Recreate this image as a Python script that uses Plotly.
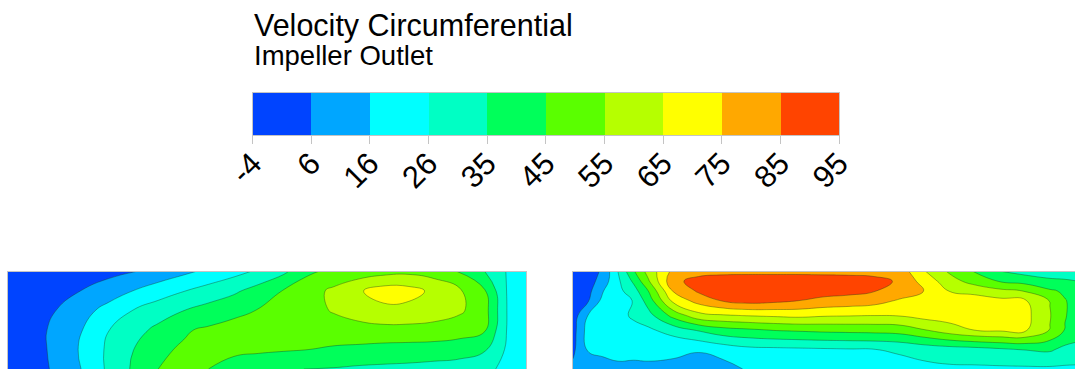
import numpy as np
import plotly.graph_objects as go

TITLE = "Velocity Circumferential"
SUBTITLE = "Impeller Outlet"

# Contour bands: 10 equal bands between the minimum and maximum level
level_min = -4.0
level_max = 95.0
n_bands = 10
tick_labels = ["-4", "6", "16", "26", "35", "45", "55", "65", "75", "85", "95"]
band_colors = ["#0044ff", "#00a6ff", "#00ffff", "#00ffc4", "#00ff5a",
               "#5aff00", "#b6ff00", "#ffff00", "#ffa800", "#ff4400"]

# Left passage: sampled circumferential velocity (rows run bottom -> top)
left_x = [0.0, 0.048, 0.097, 0.145, 0.194, 0.242, 0.29, 0.339, 0.387, 0.436, 0.484,
          0.532, 0.581, 0.629, 0.678, 0.726, 0.774, 0.823, 0.871, 0.919, 0.968, 1.0]
left_y = [0.0, 0.2, 0.4, 0.6, 0.8, 1.0]
left_z = [
    [-2, 2, 8, 16.5, 27.5, 37, 45.5, 47, 45.5, 41, 37.5, 36, 35.5, 35, 34, 33.5, 33, 32, 31, 28, 23, 18],
    [-2, 2, 9, 17.5, 27.5, 35.5, 44, 46.5, 48, 48, 47.5, 46.5, 45.5, 44, 43, 42, 41.5, 41, 40, 37, 23, 18],
    [-2, 2, 9, 16, 25.5, 32, 38, 44.5, 47, 49, 50, 50.5, 51, 52, 52.5, 52.5, 52.5, 52, 50, 47, 23, 18],
    [-2, 1, 6.4, 12.6, 19.2, 26, 30.8, 35.5, 39.3, 43, 46, 49.5, 53, 56, 59, 62.5, 62, 60, 57, 50, 23, 18],
    [-2, 0, 3, 6.3, 11, 16, 21, 25.4, 29.7, 33.9, 39.8, 46.1, 51.5, 57.5, 64.3, 70, 69, 63, 57, 47, 23, 18],
    [-2, -1, 0, 1, 3, 5.5, 9.3, 13.7, 18, 22.5, 27.3, 33.7, 44, 48, 50, 52, 53, 51, 45, 36, 24, 20],
]

# Right passage: sampled circumferential velocity (rows run bottom -> top)
right_x = [0.0, 0.03, 0.06, 0.09, 0.12, 0.15, 0.2, 0.25, 0.3, 0.35, 0.4, 0.45,
           0.5, 0.55, 0.6, 0.65, 0.7, 0.75, 0.8, 0.85, 0.9, 0.95, 0.98, 1.0]
right_y = [0.0, 0.2, 0.4, 0.55, 0.7, 0.8, 0.9, 1.0]
right_z = [
    [8, 12, 13, 14, 14, 15, 15, 12, 12, 17, 19, 20, 20, 21, 22, 22, 23, 24, 24, 24, 24, 24, 24, 24],
    [4, 16.5, 17.5, 18.5, 18, 17, 16.5, 16.5, 20, 23, 23.5, 24, 24.5, 25, 25.5, 27, 29.5, 31, 32, 34, 36, 37, 33, 32],
    [2, 20, 22, 22, 23, 24, 30, 36.7, 42, 44, 46, 47, 48, 48.5, 49, 50, 55, 61, 65.5, 67, 67, 55, 45, 42],
    [1, 16, 23, 23, 27, 32, 49, 62, 64.5, 66, 67, 68, 66.5, 66, 65.5, 66, 69, 70, 70, 70, 68.5, 56, 46, 43],
    [0, 5, 19, 22, 26, 40, 68, 79, 86, 89, 87.5, 85, 82.5, 81, 79, 74, 72, 71, 69, 68, 66.5, 55, 46, 43],
    [-1, 3, 15.5, 23, 31, 45.5, 76, 86.5, 92, 94, 93, 91, 89, 88, 85.5, 81, 75, 65, 63, 58, 55, 47, 44, 41],
    [-2, 1, 11, 24, 37, 54, 83, 88, 91, 92, 92, 92, 91, 90, 88, 84, 71, 60, 51, 45, 42, 38, 37, 36],
    [-2, 0, 8, 26, 44, 59, 78, 82, 82, 82, 82, 82, 82, 82, 82, 81, 66, 54, 45, 36, 32, 30, 30, 29],
]

W, H = 1075, 369
FONT = "Liberation Sans, Arial, Helvetica, sans-serif"
EDGE = "#c4c4c4"

# band edges and a stepped colour scale, one flat step per band
edges = np.linspace(level_min, level_max, n_bands + 1)
band_size = (level_max - level_min) / n_bands
scale = []
for i, c in enumerate(band_colors):
    scale.append([i / n_bands, c])
    scale.append([(i + 1) / n_bands, c])


def px_x(p):
    return p / W


def px_y(p):
    return 1 - p / H


fig = go.Figure()

contour_style = dict(
    colorscale=scale,
    showscale=False,
    autocontour=False,
    contours=dict(start=edges[1], end=edges[-2], size=band_size, coloring="fill"),
    line=dict(color="rgba(30,50,30,0.55)", width=0.7, smoothing=1.3),
    hoverinfo="skip",
)

fig.add_trace(go.Contour(x=left_x, y=left_y, z=left_z, xaxis="x", yaxis="y", **contour_style))
fig.add_trace(go.Contour(x=right_x, y=right_y, z=right_z, xaxis="x2", yaxis="y2", **contour_style))

# legend bar: one cell per band, coloured from the band midpoint
mids = [(edges[i] + edges[i + 1]) / 2 for i in range(n_bands)]
fig.add_trace(go.Heatmap(
    x=edges, y=[0, 1], z=[mids],
    colorscale=scale, zmin=level_min, zmax=level_max,
    showscale=False, xaxis="x3", yaxis="y3", hoverinfo="skip",
))

panel_y = [0, px_y(271.5)]
hidden = dict(showgrid=False, zeroline=False, showticklabels=False, ticks="")

fig.update_layout(
    width=W, height=H,
    margin=dict(l=0, r=0, t=0, b=0, pad=0),
    paper_bgcolor="white", plot_bgcolor="white",
    showlegend=False,
    xaxis=dict(domain=[px_x(8), px_x(526)], range=[0, 1], side="top",
               showline=True, linecolor=EDGE, linewidth=1, **hidden),
    yaxis=dict(domain=panel_y, range=[0, 1], showline=True, mirror=True,
               linecolor=EDGE, linewidth=1, **hidden),
    xaxis2=dict(domain=[px_x(573), 1.0], range=[0, 1], side="top",
                showline=True, linecolor=EDGE, linewidth=1, anchor="y2", **hidden),
    yaxis2=dict(domain=panel_y, range=[0, 1], anchor="x2", showline=True,
                mirror=True, linecolor=EDGE, linewidth=1, **hidden),
    xaxis3=dict(domain=[px_x(252.5), px_x(839)], range=[level_min, level_max],
                anchor="y3", showgrid=False, zeroline=False,
                showline=True, mirror=True, linecolor=EDGE, linewidth=1,
                ticks="outside", ticklen=8, tickwidth=1, tickcolor=EDGE,
                tickmode="array", tickvals=list(edges), ticktext=tick_labels,
                tickangle=-45, ticklabelstandoff=-11,
                tickfont=dict(family=FONT, size=31, color="black"),
                automargin=False),
    yaxis3=dict(domain=[px_y(135), px_y(93)], range=[0, 1], anchor="x3",
                showline=True, mirror=True, linecolor=EDGE, linewidth=1, **hidden),
    annotations=[
        dict(text=TITLE, x=px_x(252), y=px_y(25), xref="paper", yref="paper",
             xanchor="left", yanchor="middle", showarrow=False,
             font=dict(family=FONT, size=30.5, color="black")),
        dict(text=SUBTITLE, x=px_x(252), y=px_y(56), xref="paper", yref="paper",
             xanchor="left", yanchor="middle", showarrow=False,
             font=dict(family=FONT, size=27.5, color="black")),
    ],
)

fig.write_html("out.html")
